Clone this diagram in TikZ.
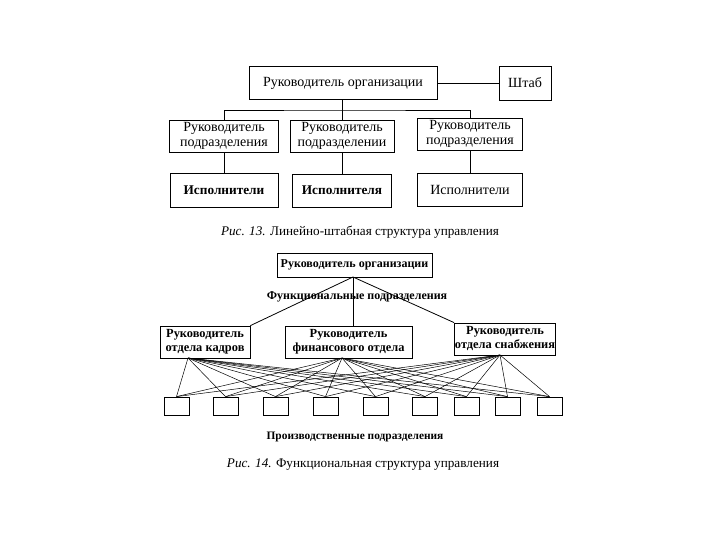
\documentclass[tikz,border=0pt]{standalone}
\usepackage{fontspec}
\setmainfont{Liberation Serif}
\usetikzlibrary{positioning}

\begin{document}
\begin{tikzpicture}[x=1pt, y=-1pt,
    box/.style={rectangle, draw, line width=0.8pt, inner sep=1pt, align=center,
      font=\fontsize{14}{15}\selectfont},
    boldbox/.style={box, inner sep=0.5pt, font=\fontsize{12.4}{14}\selectfont\bfseries},
    unit/.style={rectangle, draw, line width=0.8pt, minimum width=25pt, minimum height=18pt},
    lbl/.style={font=\fontsize{12}{13}\selectfont\bfseries},
    figcap/.style={font=\fontsize{13.2}{14}\selectfont},
    link/.style={line width=0.8pt},
    thin/.style={line width=0.5pt}
  ]
    \useasboundingbox (0,0) rectangle (720,540);

    % Рис. 13
    \node[box, minimum width=188pt, minimum height=33pt] (org1) at (343,83) {Руководитель организации};
    \node[box, minimum width=52pt, minimum height=34pt]  (staff) at (525,83) {Штаб};
    \node[box, minimum width=109pt, minimum height=32pt] (hd1) at (224,136) {Руководитель\\подразделения};
    \node[box, minimum width=104pt, minimum height=32pt] (hd2) at (342,136) {Руководитель\\подразделении};
    \node[box, minimum width=105pt, minimum height=32pt] (hd3) at (470,134) {Руководитель\\подразделения};
    \node[box, minimum width=108pt, minimum height=34pt, font=\fontsize{13.3}{14}\selectfont\bfseries] (ex1) at (224,190) {Исполнители};
    \node[box, minimum width=99pt, minimum height=33pt, font=\fontsize{13.3}{14}\selectfont\bfseries]  (ex2) at (342,190.5) {Исполнителя};
    \node[box, minimum width=105pt, minimum height=33pt] (ex3) at (470,189.5) {Исполнители};

    \coordinate (bus) at (342,110);
    \draw[link] (org1.east) -- (staff.west);
    \draw[link] (bus |- org1.south) -- (bus);
    \draw[link] (hd1.north) |- (bus) -| (hd3.north);
    \draw[link] (bus) -- (hd2.north);
    \draw[link] (hd1.south) -- (ex1.north);
    \draw[link] (hd2.south) -- (ex2.north);
    \draw[link] (hd3.south) -- (ex3.north);

    \node[figcap] (cap13) at (360,232) {\textit{Рис. 13.} Линейно-штабная структура управления};

    % Рис. 14
    \node[box, minimum width=155pt, minimum height=24pt, font=\fontsize{12}{13}\selectfont\bfseries] (org2) at (354.5,265) {Руководитель организации};
    \node[lbl] (func) at (357,297) {Функциональные подразделения};
    \node[boldbox, minimum width=90pt, minimum height=32pt]  (dp1) at (205,342) {Руководитель\\отдела кадров};
    \node[boldbox, minimum width=127pt, minimum height=32pt] (dp2) at (348.5,342) {Руководитель\\финансового отдела};
    \node[boldbox, minimum width=100pt, minimum height=32pt] (dp3) at (505,339) {Руководитель\\отдела снабжения};

    \coordinate (top) at (353,277);
    \draw[link] (top) -- (dp1.north east);
    \draw[link] (top) -- (top |- dp2.north);
    \draw[link] (top) -- (dp3.north west);

    \coordinate (src1) at (188,358);
    \coordinate (src2) at (342,358);
    \coordinate (src3) at (500,355);

    \foreach \x [count=\i] in {176.5,225.5,275.5,325.5,375.5,425,466.5,507.5,549.5}{
      \node[unit] (u\i) at (\x,406) {};
      \foreach \s in {1,2,3}
        \draw[thin] (src\s) -- (u\i.north);
    }

    \node[lbl, font=\fontsize{11.4}{13}\selectfont\bfseries] (prod) at (355,437) {Производственные подразделения};
    \node[figcap] (cap14) at (363,465) {\textit{Рис. 14.} Функциональная структура управления};
\end{tikzpicture}
\end{document}
